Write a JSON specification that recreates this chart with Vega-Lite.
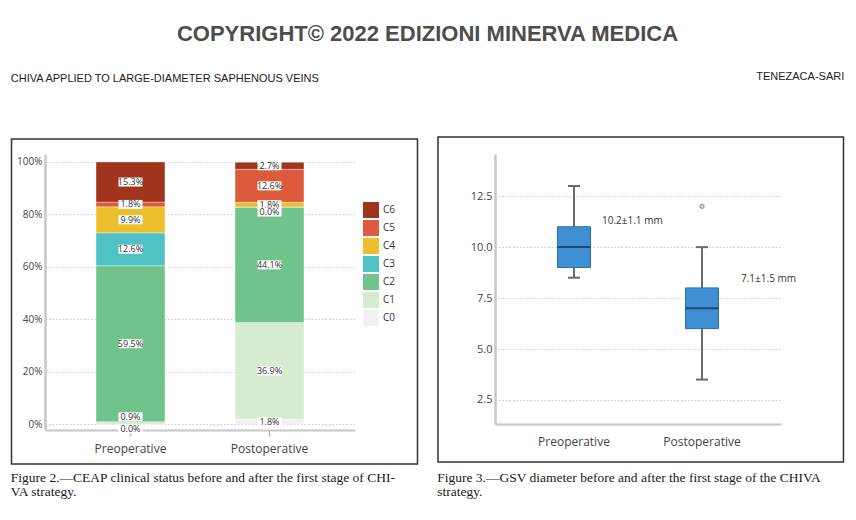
{
  "$schema": "https://vega.github.io/schema/vega-lite/v6.json",
  "padding": {"left": 10, "right": 10, "top": 23, "bottom": 5},
  "background": "white",
  "config": {
    "view": {"stroke": null},
    "font": "Open Sans",
    "axis": {"labelFont": "Open Sans"},
    "legend": {"labelFont": "Open Sans"}
  },
  "datasets": {
    "ceap": [
      {"phase": "Preoperative", "cat": "C0", "share": 0.0},
      {"phase": "Preoperative", "cat": "C1", "share": 0.009},
      {"phase": "Preoperative", "cat": "C2", "share": 0.595},
      {"phase": "Preoperative", "cat": "C3", "share": 0.126},
      {"phase": "Preoperative", "cat": "C4", "share": 0.099},
      {"phase": "Preoperative", "cat": "C5", "share": 0.018},
      {"phase": "Preoperative", "cat": "C6", "share": 0.153},
      {"phase": "Postoperative", "cat": "C0", "share": 0.018},
      {"phase": "Postoperative", "cat": "C1", "share": 0.369},
      {"phase": "Postoperative", "cat": "C2", "share": 0.441},
      {"phase": "Postoperative", "cat": "C3", "share": 0.0},
      {"phase": "Postoperative", "cat": "C4", "share": 0.018},
      {"phase": "Postoperative", "cat": "C5", "share": 0.126},
      {"phase": "Postoperative", "cat": "C6", "share": 0.027}
    ],
    "gsv": [
      {"phase": "Preoperative", "lo": 8.5, "q1": 9, "med": 10, "q3": 11, "hi": 13, "note": "10.2±1.1 mm"},
      {"phase": "Postoperative", "lo": 3.5, "q1": 6, "med": 7, "q3": 8, "hi": 10, "note": "7.1±1.5 mm"}
    ],
    "gsvOut": [
      {"phase": "Postoperative", "value": 12}
    ]
  },
  "title": {
    "text": "COPYRIGHT© 2022 EDIZIONI MINERVA MEDICA",
    "anchor": "middle",
    "font": "Liberation Sans",
    "fontSize": 22,
    "fontWeight": "bold",
    "color": "#4d4d4d",
    "offset": 25
  },
  "spacing": 18,
  "hconcat": [
    {
      "title": {
        "text": "CHIVA APPLIED TO LARGE-DIAMETER SAPHENOUS VEINS",
        "anchor": "start",
        "font": "Liberation Sans",
        "fontSize": 11,
        "fontWeight": "normal",
        "color": "#222222",
        "offset": 54
      },
      "vconcat": [
        {
          "width": 310,
          "height": 276,
          "title": {
            "text": ["Figure 2.—CEAP clinical status before and after the first stage of CHI-", "VA strategy."],
            "orient": "bottom",
            "anchor": "start",
            "frame": "bounds",
            "font": "Liberation Serif",
            "fontSize": 13.5,
            "fontWeight": "normal",
            "color": "#1a1a1a",
            "lineHeight": 14,
            "offset": 6
          },
          "resolve": {"scale": {"x": "independent"}, "axis": {"x": "independent"}},
          "layer": [
            {
              "data": {"values": [{}]},
              "mark": {"type": "rect", "fillOpacity": 0, "stroke": "#333333", "strokeWidth": 1.5, "clip": false},
              "encoding": {
                "x": {"datum": 0, "type": "quantitative", "scale": {"domain": [0.0825, 0.8461], "nice": false, "zero": false}, "axis": null},
                "x2": {"datum": 1},
                "y": {"datum": -0.1527, "type": "quantitative", "scale": {"domain": [-0.0229, 1.0305], "nice": false, "zero": false}},
                "y2": {"datum": 1.0878}
              }
            },
            {
              "data": {"name": "ceap"},
              "transform": [
                {"stack": "share", "groupby": ["phase"], "sort": [{"field": "cat", "order": "ascending"}], "as": ["s0", "s1"]}
              ],
              "layer": [
                {
                  "mark": {"type": "bar", "stroke": "white", "strokeOpacity": 0.35, "strokeWidth": 1},
                  "encoding": {
                    "x": {
                      "field": "phase", "type": "nominal", "sort": ["Preoperative", "Postoperative"],
                      "scale": {"paddingInner": 0.504, "paddingOuter": 0.367},
                      "axis": {
                        "title": null, "labelAngle": 0, "labelFontSize": 12, "labelColor": "#444444",
                        "labelPadding": 7, "tickSize": 6, "tickColor": "#bbbbbb", "tickWidth": 1.5,
                        "domainColor": "#c8c8c8", "domainWidth": 2, "grid": false
                      }
                    },
                    "y": {
                      "field": "s0", "type": "quantitative",
                      "scale": {"domain": [-0.0229, 1.0305], "nice": false, "zero": false},
                      "axis": {
                        "title": null, "values": [0, 0.2, 0.4, 0.6, 0.8, 1], "format": ".0%",
                        "labelFontSize": 10, "labelColor": "#444444", "labelPadding": 3, "ticks": false,
                        "domainColor": "#c8c8c8", "domainWidth": 2.5,
                        "grid": true, "gridColor": "#c8c8c8", "gridDash": [1.5, 2], "gridWidth": 1
                      }
                    },
                    "y2": {"field": "s1"},
                    "color": {
                      "field": "cat", "type": "nominal",
                      "scale": {
                        "domain": ["C6", "C5", "C4", "C3", "C2", "C1", "C0"],
                        "range": ["#a0341c", "#dd5a3c", "#eebf2d", "#4fc2c6", "#6fc38b", "#d6ebcf", "#f0f2f2"]
                      },
                      "legend": {
                        "title": null, "orient": "none", "legendX": 318, "legendY": 48,
                        "symbolType": "square", "symbolSize": 256, "symbolStrokeWidth": 0,
                        "labelFontSize": 10, "labelColor": "#333333", "labelOffset": 4, "rowPadding": 2
                      }
                    }
                  }
                },
                {
                  "transform": [{"fold": ["s0", "s1"], "as": ["edge", "pos"]}, {"filter": "datum.share >= 0.01"}],
                  "encoding": {
                    "x": {"field": "phase", "type": "nominal", "sort": ["Preoperative", "Postoperative"]},
                    "y": {"aggregate": "mean", "field": "pos", "type": "quantitative"},
                    "detail": {"field": "cat"}
                  },
                  "layer": [
                    {"mark": {"type": "tick", "color": "white", "size": 24, "thickness": 9, "opacity": 1}},
                    {"mark": {"type": "text", "fontSize": 9, "color": "#333333", "baseline": "middle"},
                     "encoding": {"text": {"field": "share", "format": ".1%"}}}
                  ]
                },
                {
                  "transform": [{"fold": ["s0", "s1"], "as": ["edge", "pos"]}, {"filter": "datum.share > 0 && datum.share < 0.01"}],
                  "encoding": {
                    "x": {"field": "phase", "type": "nominal", "sort": ["Preoperative", "Postoperative"]},
                    "y": {"aggregate": "mean", "field": "pos", "type": "quantitative"},
                    "detail": {"field": "cat"}
                  },
                  "layer": [
                    {"mark": {"type": "tick", "color": "white", "size": 24, "thickness": 9, "opacity": 1, "yOffset": -6}},
                    {"mark": {"type": "text", "fontSize": 9, "color": "#333333", "baseline": "middle", "dy": -6},
                     "encoding": {"text": {"field": "share", "format": ".1%"}}}
                  ]
                },
                {
                  "transform": [{"fold": ["s0", "s1"], "as": ["edge", "pos"]}, {"filter": "datum.share == 0"}],
                  "encoding": {
                    "x": {"field": "phase", "type": "nominal", "sort": ["Preoperative", "Postoperative"]},
                    "y": {"aggregate": "mean", "field": "pos", "type": "quantitative"},
                    "detail": {"field": "cat"}
                  },
                  "layer": [
                    {"mark": {"type": "tick", "color": "white", "size": 24, "thickness": 9, "opacity": 1, "yOffset": 5}},
                    {"mark": {"type": "text", "fontSize": 9, "color": "#333333", "baseline": "middle", "dy": 5},
                     "encoding": {"text": {"field": "share", "format": ".1%"}}}
                  ]
                }
              ]
            }
          ]
        }
      ]
    },
    {
      "title": {
        "text": "TENEZACA-SARI",
        "anchor": "end",
        "font": "Liberation Sans",
        "fontSize": 11,
        "fontWeight": "normal",
        "color": "#222222",
        "offset": 54
      },
      "vconcat": [
        {
          "width": 286,
          "height": 270,
          "title": {
            "text": ["Figure 3.—GSV diameter before and after the first stage of the CHIVA", "strategy."],
            "orient": "bottom",
            "anchor": "start",
            "frame": "bounds",
            "font": "Liberation Serif",
            "fontSize": 13.5,
            "fontWeight": "normal",
            "color": "#1a1a1a",
            "lineHeight": 14,
            "offset": 8
          },
          "resolve": {"scale": {"x": "independent"}, "axis": {"x": "independent"}},
          "layer": [
            {
              "data": {"values": [{}]},
              "mark": {"type": "rect", "fillOpacity": 0, "stroke": "#333333", "strokeWidth": 1.5, "clip": false},
              "encoding": {
                "x": {"datum": 0, "type": "quantitative", "scale": {"domain": [0.1406, 0.8459], "nice": false, "zero": false}, "axis": null},
                "x2": {"datum": 1},
                "y": {"datum": -0.545, "type": "quantitative", "scale": {"domain": [1.32, 14.57], "nice": false, "zero": false}},
                "y2": {"datum": 15.4}
              }
            },
            {
              "layer": [
                {
                  "data": {"name": "gsv"},
                  "mark": {"type": "rule", "color": "#6b6b6b", "strokeWidth": 2},
                  "encoding": {
                    "x": {
                      "field": "phase", "type": "nominal", "sort": ["Preoperative", "Postoperative"],
                      "scale": {"paddingInner": 0.742, "paddingOuter": 0.488},
                      "axis": {
                        "title": null, "labelAngle": 0, "labelFontSize": 12, "labelColor": "#444444",
                        "labelPadding": 12, "ticks": false,
                        "domainColor": "#c8c8c8", "domainWidth": 2, "grid": false
                      }
                    },
                    "y": {
                      "field": "lo", "type": "quantitative",
                      "scale": {"domain": [1.32, 14.57], "nice": false, "zero": false},
                      "axis": {
                        "title": null, "values": [2.5, 5, 7.5, 10, 12.5], "format": ".1f",
                        "labelFontSize": 11, "labelColor": "#444444", "labelPadding": 3, "ticks": false,
                        "domainColor": "#c8c8c8", "domainWidth": 2.5,
                        "grid": true, "gridColor": "#c8c8c8", "gridDash": [1.5, 2], "gridWidth": 1
                      }
                    },
                    "y2": {"field": "hi"}
                  }
                },
                {
                  "data": {"name": "gsv"},
                  "mark": {"type": "tick", "color": "#6b6b6b", "size": 12, "thickness": 2, "opacity": 1},
                  "encoding": {
                    "x": {"field": "phase", "type": "nominal", "sort": ["Preoperative", "Postoperative"]},
                    "y": {"field": "lo", "type": "quantitative"}
                  }
                },
                {
                  "data": {"name": "gsv"},
                  "mark": {"type": "tick", "color": "#6b6b6b", "size": 12, "thickness": 2, "opacity": 1},
                  "encoding": {
                    "x": {"field": "phase", "type": "nominal", "sort": ["Preoperative", "Postoperative"]},
                    "y": {"field": "hi", "type": "quantitative"}
                  }
                },
                {
                  "data": {"name": "gsv"},
                  "mark": {"type": "bar", "fill": "#3f8fd5", "stroke": "#2d6ea8", "strokeWidth": 1},
                  "encoding": {
                    "x": {"field": "phase", "type": "nominal", "sort": ["Preoperative", "Postoperative"]},
                    "y": {"field": "q1", "type": "quantitative"},
                    "y2": {"field": "q3"}
                  }
                },
                {
                  "data": {"name": "gsv"},
                  "mark": {"type": "tick", "color": "#1d4670", "size": 33, "thickness": 2, "opacity": 1},
                  "encoding": {
                    "x": {"field": "phase", "type": "nominal", "sort": ["Preoperative", "Postoperative"]},
                    "y": {"field": "med", "type": "quantitative"}
                  }
                },
                {
                  "data": {"name": "gsvOut"},
                  "mark": {"type": "point", "filled": true, "fill": "#cfcfcf", "stroke": "#8a8a8a", "strokeWidth": 1, "size": 18, "opacity": 1},
                  "encoding": {
                    "x": {"field": "phase", "type": "nominal", "sort": ["Preoperative", "Postoperative"]},
                    "y": {"field": "value", "type": "quantitative"}
                  }
                },
                {
                  "data": {"name": "gsv"},
                  "transform": [{"filter": "datum.phase == 'Preoperative'"}],
                  "mark": {"type": "text", "align": "left", "baseline": "middle", "fontSize": 10, "color": "#333333", "dx": 28, "dy": -6},
                  "encoding": {
                    "x": {"field": "phase", "type": "nominal", "sort": ["Preoperative", "Postoperative"]},
                    "y": {"field": "q3", "type": "quantitative"},
                    "text": {"field": "note"}
                  }
                },
                {
                  "data": {"name": "gsv"},
                  "transform": [{"filter": "datum.phase == 'Postoperative'"}],
                  "mark": {"type": "text", "align": "left", "baseline": "middle", "fontSize": 10, "color": "#333333", "dx": 39, "dy": -9},
                  "encoding": {
                    "x": {"field": "phase", "type": "nominal", "sort": ["Preoperative", "Postoperative"]},
                    "y": {"field": "q3", "type": "quantitative"},
                    "text": {"field": "note"}
                  }
                }
              ]
            }
          ]
        }
      ]
    }
  ]
}
